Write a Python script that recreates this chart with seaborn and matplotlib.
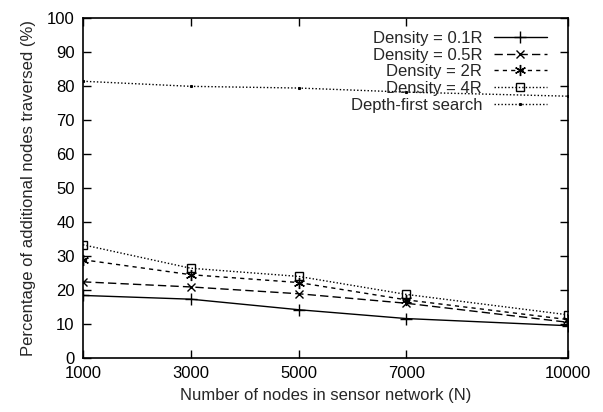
#!/usr/bin/env python3
"""
Additional nodes traversed vs network size, gnuplot-style line chart
"""

import pandas as pd
import matplotlib
matplotlib.use('Agg')
import matplotlib.pyplot as plt
import seaborn as sns

# data
nodes = [1000, 3000, 5000, 7000, 10000]
density_01r = [18.4, 17.3, 14.2, 11.6, 9.5]
density_05r = [22.4, 20.9, 18.9, 16.1, 10.5]
density_2r = [28.9, 24.5, 22.2, 17.1, 11.3]
density_4r = [33.3, 26.4, 24.0, 18.7, 12.7]
depth_first = [81.4, 79.9, 79.4, 78.2, 77.0]

labels = ['Density = 0.1R', 'Density = 0.5R', 'Density = 2R',
          'Density = 4R', 'Depth-first search']
x_ticks = [1000, 3000, 5000, 7000, 10000]
y_ticks = list(range(0, 101, 10))


def main():
    sns.set_style('ticks')
    plt.rcParams['font.family'] = ['Liberation Sans', 'DejaVu Sans']
    plt.rcParams['font.size'] = 12

    fig = plt.figure(figsize=(6.03, 4.12), dpi=100)
    ax = fig.add_axes([83 / 603, 1 - 358 / 412, 485 / 603, 340 / 412])

    series = [density_01r, density_05r, density_2r, density_4r, depth_first]
    styles = [
        dict(linestyle='-', marker='+', markersize=8),
        dict(linestyle=(0, (6, 3)), marker='x', markersize=6),
        dict(linestyle=(0, (3, 3)), marker=(6, 2, 0), markersize=8),
        dict(linestyle=(0, (1, 1.5)), marker='s', markersize=6, mfc='none'),
        dict(linestyle=(0, (1, 1.5)), marker='s', markersize=1.2, mfc='black'),
    ]

    for vals, lab, st in zip(series, labels, styles):
        df = pd.DataFrame({'N': nodes, 'pct': vals})
        sns.lineplot(data=df, x='N', y='pct', ax=ax, color='black',
                     linewidth=1.0, label=lab, mec='black', mew=1.0, **st)

    ax.set_xlim(1000, 10000)
    ax.set_ylim(0, 100)
    ax.set_xticks(x_ticks)
    ax.set_xticklabels([str(t) for t in x_ticks])
    ax.set_yticks(y_ticks)
    ax.tick_params(direction='in', length=6, width=1, top=True, right=True,
                   labelsize=12, colors='black', pad=6)
    for sp in ax.spines.values():
        sp.set_visible(True)
        sp.set_linewidth(1.2)
        sp.set_color('black')

    ax.set_xlabel('Number of nodes in sensor network (N)', fontsize=12, labelpad=5)
    ax.set_ylabel('Percentage of additional nodes traversed (%)', fontsize=12,
                  labelpad=8)

    ax.legend(loc='upper right', bbox_to_anchor=(0.957, 0.962), frameon=False,
              markerfirst=False, handlelength=3.2, handletextpad=0.7,
              labelspacing=0.1, borderpad=0, borderaxespad=0, fontsize=12)

    fig.savefig('out.png', dpi=100)


if __name__ == "__main__":
    main()
